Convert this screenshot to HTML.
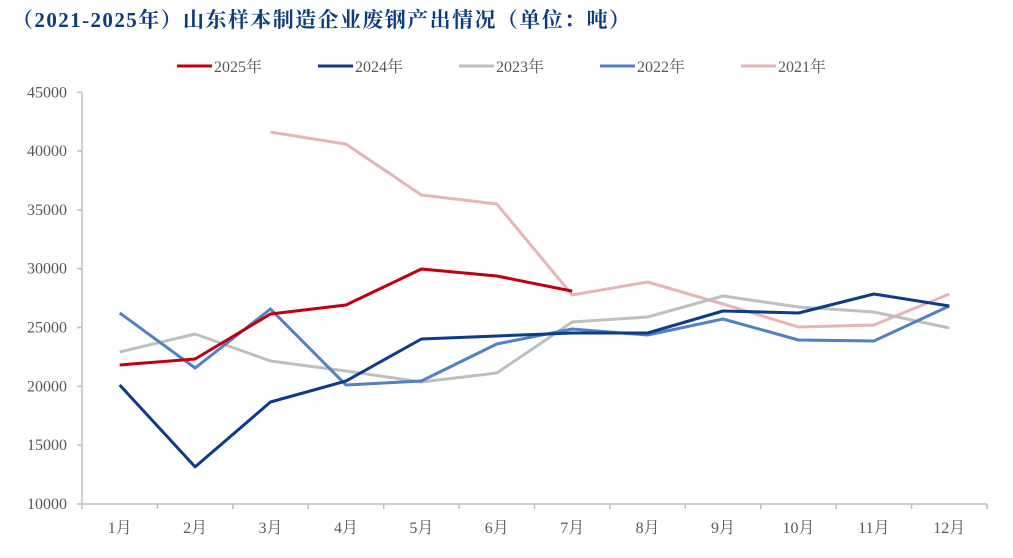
<!DOCTYPE html>
<html><head><meta charset="utf-8"><style>
body{margin:0;background:#fff;}
svg text{font-family:"Liberation Serif","Noto Serif CJK SC",serif;}
</style></head><body>
<svg id="chart" width="1013" height="553" xmlns="http://www.w3.org/2000/svg">
<text x="12" y="27" font-size="21" font-weight="bold" fill="#0d3c7e" textLength="618" lengthAdjust="spacing">（2021-2025年）山东样本制造企业废钢产出情况（单位：吨）</text>
<g id="legend"></g>
<g id="axes"></g>
<g id="series"></g>
</svg>
<script>
const categories=["1月","2月","3月","4月","5月","6月","7月","8月","9月","10月","11月","12月"];
const yTicks=[10000,15000,20000,25000,30000,35000,40000,45000];
const seriesNames=["2025年","2024年","2023年","2022年","2021年"];
const s2025=[21820,22330,26150,26920,29980,29380,28100,null,null,null,null,null];
const s2024=[20120,13150,18670,20460,24030,24280,24540,24540,26410,26240,27850,26830];
const s2023=[22920,24450,22160,21310,20370,21140,25470,25900,27680,26750,26320,24960];
const s2022=[26240,21560,26580,20120,20460,23600,24880,24370,25730,23940,23860,26830];
const s2021=[null,null,41620,40600,36270,35500,27770,28870,27000,25050,25220,27850];
const colors=["#c00010","#0e3a8a","#bfbfbf","#4f81c4","#e8b4b6"];
const NS="http://www.w3.org/2000/svg";
const x0=82,x1=987,yTop=92.3,yBot=504,yMin=10000,yMax=45000;
const band=(x1-x0)/categories.length;
const xS=i=>x0+band*(i+0.5);
const yS=v=>yBot-(v-yMin)/(yMax-yMin)*(yBot-yTop);
function mk(tag,attrs,parent){const e=document.createElementNS(NS,tag);for(const k in attrs)e.setAttribute(k,attrs[k]);parent.appendChild(e);return e;}
const axes=document.getElementById('axes');
let yl=mk('line',{x1:x0,y1:yTop,x2:x0,y2:yBot,stroke:'#bfbfbf','stroke-width':1.5},axes);


let xl=mk('line',{x1:x0,y1:yBot,x2:x1,y2:yBot,stroke:'#bfbfbf','stroke-width':1.5},axes);


yTicks.forEach(v=>{
  const y=yS(v);
  mk('line',{x1:x0-5,y1:y,x2:x0,y2:y,stroke:'#bfbfbf','stroke-width':1.5},axes);
  const t=mk('text',{x:67,y:y+5,'text-anchor':'end','font-size':16,fill:'#595959'},axes);
  t.textContent=v;
  
  
});
for(let i=0;i<=categories.length;i++){
  const x=x0+band*i;
  mk('line',{x1:x,y1:yBot,x2:x,y2:yBot+5,stroke:'#bfbfbf','stroke-width':1.5},axes);
}
categories.forEach((c,i)=>{
  const t=mk('text',{x:xS(i),y:533,'text-anchor':'middle','font-size':16,fill:'#595959'},axes);
  t.textContent=c;
  
  
});
const allSeries=[s2025,s2024,s2023,s2022,s2021];
const ser=document.getElementById('series');
[4,2,3,1,0].forEach(k=>{
  const data=allSeries[k];let d='';let pen=false;
  data.forEach((v,i)=>{if(v==null){pen=false;return;}d+=(pen?'L':'M')+xS(i).toFixed(1)+' '+yS(v).toFixed(1);pen=true;});
  const p=mk('path',{d:d,fill:'none',stroke:colors[k],'stroke-width':3,'stroke-linejoin':'round'},ser);
  
  
});
const leg=document.getElementById('legend');
const legX=[177,318,459,600,741];
seriesNames.forEach((n,k)=>{
  const g=mk('g',{},leg);
  
  
  mk('line',{x1:legX[k],y1:66,x2:legX[k]+35,y2:66,stroke:colors[k],'stroke-width':3},g);
  const t=mk('text',{x:legX[k]+37,y:72,'font-size':16,fill:'#595959'},g);
  t.textContent=n;
});
</script>
</body></html>
